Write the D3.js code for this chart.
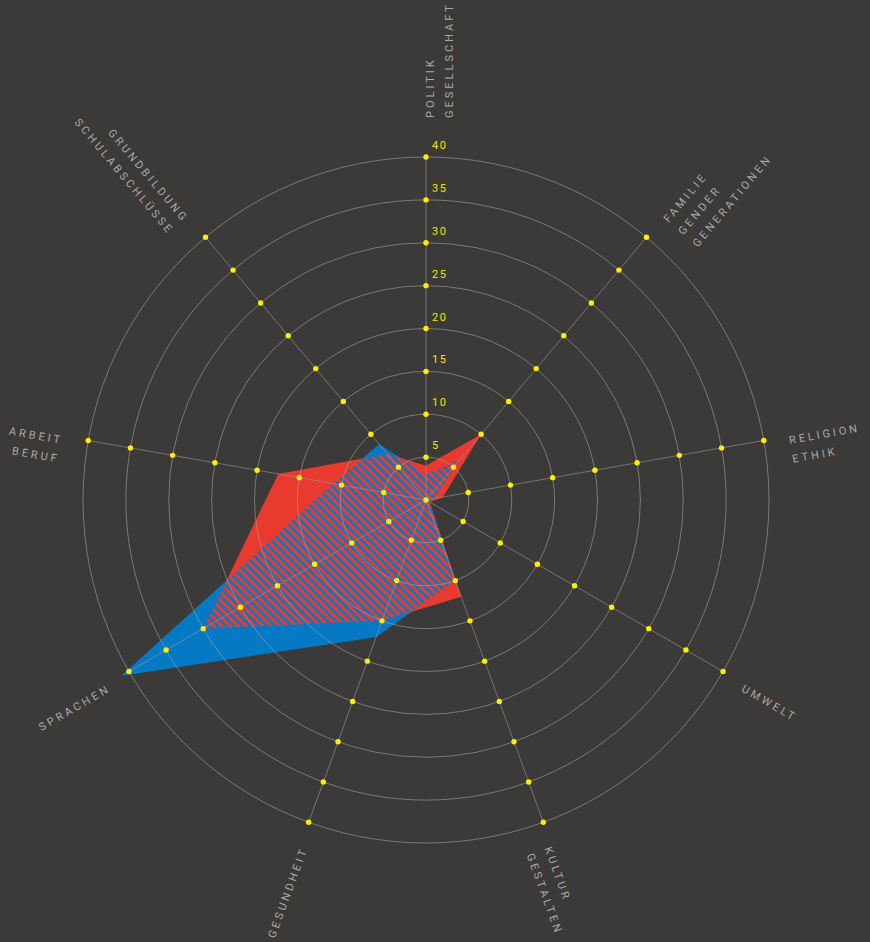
<!DOCTYPE html>
<html>
<head>
<meta charset="utf-8">
<script src="https://cdn.jsdelivr.net/npm/d3@7"></script>
<style>
  html, body { margin: 0; padding: 0; background: #3b3a38; }
  svg { display: block; }
</style>
</head>
<body>
<svg id="chart" width="870" height="942"></svg>
<script>
// ---- data ----
const categories = [
  ["POLITIK", "GESELLSCHAFT"],
  ["FAMILIE", "GENDER", "GENERATIONEN"],
  ["RELIGION", "ETHIK"],
  ["UMWELT"],
  ["KULTUR", "GESTALTEN"],
  ["GESUNDHEIT"],
  ["SPRACHEN"],
  ["ARBEIT", "BERUF"],
  ["GRUNDBILDUNG", "SCHULABSCHLÜSSE"]
];
const seriesBlue = [3, 6, 1, 0.5, 10, 17, 41, 11, 8.5];
const seriesRed  = [4, 10, 2, 0.5, 12, 15, 30, 17.5, 7];
const tickValues = [5, 10, 15, 20, 25, 30, 35, 40];
const tickLabels = ["5", "10", "15", "20", "25", "30", "35", "40"];

// ---- layout ----
const W = 870, H = 942;
const cx = 426, cy = 500;
const BLUE = "#0679c4", RED = "#e83a2f", BG = "#3b3a38";

const svg = d3.select("#chart");
svg.append("rect").attr("width", W).attr("height", H).attr("fill", BG);

const r = d3.scaleLinear().domain([0, 40]).range([0, 343]);
const angle = d3.scaleLinear().domain([0, categories.length]).range([0, 2 * Math.PI]);

const defs = svg.append("defs");
const pat = defs.append("pattern")
  .attr("id", "hatch")
  .attr("patternUnits", "userSpaceOnUse")
  .attr("width", 5.8).attr("height", 5.8)
  .attr("patternTransform", "rotate(-45)");
pat.append("rect").attr("x", 0).attr("y", 0).attr("width", 2.7).attr("height", 5.8).attr("fill", BLUE);

const g = svg.append("g").attr("transform", `translate(${cx},${cy})`);

const radial = d3.lineRadial()
  .angle((d, i) => angle(i))
  .radius(d => r(d))
  .curve(d3.curveLinearClosed);

g.append("path").attr("d", radial(seriesBlue)).attr("fill", BLUE);
g.append("path").attr("d", radial(seriesRed)).attr("fill", RED);
g.append("path").attr("d", radial(seriesBlue)).attr("fill", "url(#hatch)");

// grid circles
g.selectAll("circle.ring").data(tickValues).join("circle")
  .attr("class", "ring")
  .attr("r", d => r(d))
  .attr("fill", "none")
  .attr("stroke", "#a3a3a1")
  .attr("stroke-opacity", 0.75)
  .attr("stroke-width", 0.8);

// axis lines
const px = (i, v) => Math.sin(angle(i)) * r(v);
const py = (i, v) => -Math.cos(angle(i)) * r(v);
g.selectAll("line.axis").data(categories).join("line")
  .attr("class", "axis")
  .attr("x1", 0).attr("y1", 0)
  .attr("x2", (d, i) => px(i, 40))
  .attr("y2", (d, i) => py(i, 40))
  .attr("stroke", "#9a9a98")
  .attr("stroke-opacity", 0.75)
  .attr("stroke-width", 0.8);

// dots
const dotData = [];
categories.forEach((c, i) => tickValues.forEach(v => dotData.push({ i, v })));
g.append("circle").attr("r", 2.7).attr("fill", "#ffee00");
g.selectAll("circle.dot").data(dotData).join("circle")
  .attr("class", "dot")
  .attr("cx", d => px(d.i, d.v))
  .attr("cy", d => py(d.i, d.v))
  .attr("r", 2.7)
  .attr("fill", "#ffee00");

// tick labels on first axis
g.selectAll("text.tick").data(tickValues).join("text")
  .attr("class", "tick")
  .attr("x", 6)
  .attr("y", d => -r(d) - 8)
  .attr("fill", "#f2e400")
  .attr("font-family", "Roboto, 'DejaVu Sans', sans-serif")
  .attr("font-size", 11)
  .attr("letter-spacing", 1.6)
  .text((d, i) => tickLabels[i]);

// axis labels
categories.forEach((lines, i) => {
  const a = angle(i);
  const deg = a * 180 / Math.PI;
  const right = deg <= 180;
  const R = i === 0 ? 382 : (right ? 368 : 368);
  const rot = right ? deg - 90 : deg + 90;
  const lg = g.append("g")
    .attr("transform", `translate(${Math.sin(a) * R},${-Math.cos(a) * R}) rotate(${rot})`);
  lines.forEach((t, k) => {
    lg.append("text")
      .attr("x", 0)
      .attr("y", 8 + k * 19)
      .attr("text-anchor", right ? "start" : "end")
      .attr("fill", "#a9a9a7")
      .attr("font-family", "Roboto, 'DejaVu Sans', sans-serif")
      .attr("font-size", 11)
      .attr("letter-spacing", 3.0)
      .text(t);
  });
});
</script>
</body>
</html>
